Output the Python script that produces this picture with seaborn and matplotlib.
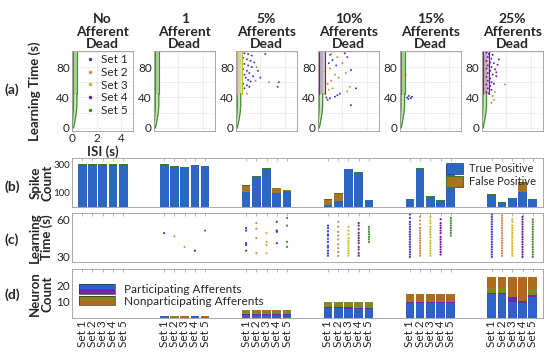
import matplotlib
matplotlib.use('Agg')
import matplotlib.pyplot as plt
import pandas as pd
import seaborn as sns
from matplotlib.patches import Rectangle
from matplotlib.legend_handler import HandlerBase

sns.set_style('white')
plt.rcParams['font.family'] = ['Lato', 'DejaVu Sans']

conditions = ['No\nAfferent\nDead', '1\nAfferent\nDead', '5%\nAfferents\nDead',
              '10%\nAfferents\nDead', '15%\nAfferents\nDead', '25%\nAfferents\nDead']
set_names = ['Set 1', 'Set 2', 'Set 3', 'Set 4', 'Set 5']
set_colors = ['#3b3bd4', '#c98a55', '#cdb52a', '#6e1f9e', '#3f8f2c']

# ---- (a) ISI vs learning time ----
# converging column of spikes (ISI edges vs time)
col_t = [0, 10, 20, 30, 45, 100]
col_left = [0.0, 0.05, 0.1, 0.12, 0.12, 0.12]
col_right = [0.12, 0.25, 0.35, 0.4, 0.4, 0.4]
col_upper_set = [4, 4, 2, 3, 4, 3]      # set dominating the column above 45 s
col_upper_right = [0.4, 0.4, 0.5, 0.55, 0.4, 0.6]

# scattered spikes: (set index, ISI, time)
spread_no_dead = []
spread_1_dead = []
spread_5pct = [(0, 0.7, 98), (0, 1.0, 97), (0, 1.3, 95), (0, 0.6, 92), (0, 0.9, 90), (0, 1.2, 88),
               (0, 1.5, 86), (0, 0.7, 84), (0, 1.0, 82), (0, 1.3, 80), (0, 0.6, 77), (0, 0.9, 75),
               (0, 1.1, 72), (0, 0.7, 70), (0, 1.4, 68), (0, 0.8, 66), (0, 1.0, 63), (0, 1.2, 61),
               (0, 0.6, 58), (0, 0.9, 56), (0, 1.1, 54), (0, 0.7, 52), (0, 2.4, 97), (0, 3.5, 60),
               (0, 3.4, 54), (0, 1.8, 75), (0, 2.0, 66),
               (1, 2.7, 60), (1, 1.6, 62), (1, 0.9, 45), (1, 1.7, 80)]
spread_10pct = [(0, 1.0, 96), (0, 2.2, 98), (0, 2.4, 93), (0, 2.7, 76), (0, 3.1, 52), (0, 2.7, 30),
                (0, 1.4, 41), (0, 1.0, 39), (0, 1.6, 43), (0, 0.8, 37), (0, 1.8, 45), (0, 1.2, 89),
                (0, 0.9, 85), (0, 1.5, 82), (0, 0.7, 40),
                (1, 1.0, 78), (1, 1.4, 70), (1, 1.1, 62), (1, 1.7, 66), (1, 2.3, 72), (1, 2.6, 54),
                (1, 2.4, 48), (1, 1.2, 52), (1, 0.8, 58), (1, 2.0, 85), (1, 1.6, 93), (1, 1.1, 97),
                (1, 0.6, 74), (2, 0.6, 45), (2, 0.9, 50)]
spread_15pct = [(0, 0.6, 40), (0, 0.75, 42), (0, 0.9, 39), (0, 1.0, 41), (0, 0.7, 38), (2, 0.5, 70)]
spread_25pct = [(3, 0.4, 99), (3, 0.6, 97), (3, 0.9, 96), (3, 0.5, 93), (3, 0.8, 91), (3, 0.4, 88),
                (3, 0.7, 86), (3, 1.0, 85), (3, 0.5, 82), (3, 0.8, 80), (3, 1.3, 83), (3, 0.4, 78),
                (3, 0.7, 75), (3, 1.1, 77), (3, 0.5, 72), (3, 0.9, 70), (3, 0.4, 67), (3, 0.7, 65),
                (3, 1.2, 68), (3, 0.5, 62), (3, 0.8, 60), (3, 0.4, 57), (3, 0.7, 55), (3, 1.0, 58),
                (3, 0.5, 52), (3, 0.8, 50), (3, 0.4, 47), (3, 0.6, 45), (3, 1.4, 90), (3, 1.2, 73),
                (1, 0.9, 42), (1, 1.0, 37), (1, 0.8, 33), (2, 1.1, 47), (1, 1.9, 57)]
spreads = [spread_no_dead, spread_1_dead, spread_5pct, spread_10pct, spread_15pct, spread_25pct]

# ---- (b) spike counts ----
true_pos = [[300, 300, 300, 300, 300], [300, 285, 280, 295, 290], [105, 215, 275, 98, 114],
            [14, 43, 270, 240, 48], [52, 272, 72, 44, 295], [85, 28, 62, 110, 52]]
false_pos = [[0, 0, 0, 0, 0], [0, 0, 0, 0, 0], [42, 0, 0, 38, 4],
             [38, 50, 0, 0, 0], [0, 0, 0, 0, 0], [0, 0, 0, 60, 0]]
extra_pos = [[5, 5, 5, 5, 5], [5, 5, 5, 5, 5], [8, 10, 4, 3, 3],
             [5, 5, 5, 10, 4], [6, 6, 6, 6, 6], [5, 5, 5, 10, 5]]

# ---- (c) learning times ----
learn_times = [
    [[], [], [], [], []],
    [[49], [46.5], [38], [35], [51]],
    [[53, 51, 41, 39.5, 35], [57, 52.5, 45, 33], [49, 42, 39.5, 33], [58, 51, 50, 41], [61, 55, 42, 38]],
    [[55, 53, 50.5, 48, 47, 44.5, 42, 39, 37.5, 35, 33, 31], [58, 54, 50, 47, 44, 40, 37, 34, 31],
     [54, 51, 48, 45, 43, 41, 39, 37, 35, 33, 31], [57, 55, 52, 49, 47, 45, 43, 41, 38, 36, 33, 31],
     [54, 52, 50, 48, 46, 44, 42]],
    [[64, 61, 58, 56, 54, 52, 50, 48, 46, 44, 42, 40, 38, 36, 34, 32, 30],
     [62, 59, 56, 53, 51, 49, 47, 45, 43, 41, 39, 37, 35, 33, 31],
     [62, 59, 57, 54, 52, 50, 48, 46, 43, 41, 39, 37, 35, 33, 31],
     [60, 57, 55, 53, 51, 49, 46, 44, 42, 40, 38, 36, 34, 32],
     [61, 59, 57, 55, 53, 51, 49, 47]],
    [[64, 62, 60, 58, 56, 54, 52, 50, 48, 46, 44, 42, 40, 38, 36, 34, 32, 30],
     [63, 61, 59, 57, 55, 53, 51, 49, 47, 45, 43, 41, 39, 37, 35, 33, 31],
     [60, 58, 55, 53, 51, 49, 47, 45, 43, 41, 39, 37, 35, 33, 31],
     [62, 60, 58, 56, 54, 52, 50, 48, 46, 44, 42, 40, 38, 36, 34, 32, 30],
     [60, 58, 56, 54, 52, 50, 48, 46, 44, 42, 40, 38, 36, 34, 32, 30]],
]

# ---- (d) neuron counts ----
part_a = [[0] * 5, [1, 0, 0, 1, 0], [2, 2, 2, 2, 2], [6, 6, 5.5, 5.5, 5.5], [9, 9, 9, 9, 9], [15, 15, 10, 9, 13]]
part_b = [[0] * 5, [0] * 5, [0.5] * 5, [0.5, 0.5, 1, 0.5, 0.5], [0.5] * 5, [0.5, 0.5, 3, 1.5, 1]]
nonpart_a = [[0] * 5, [0, 1, 0, 0, 0], [1.5] * 5, [3.5, 3.5, 3.5, 4, 4], [1] * 5, [3, 3, 0, 0, 4]]
nonpart_b = [[0] * 5, [0, 0, 1, 0, 1], [1] * 5, [0] * 5, [4.5] * 5, [6.5, 6.5, 12, 14.5, 7]]

positions = [8 * g + s for g in range(6) for s in range(5)]
flat = lambda arr: [v for grp in arr for v in grp]

spine_col = '#9a9a9a'
tick_fs = 8.5
lab_fs = 9.5
fig = plt.figure(figsize=(5.5, 3.53), dpi=100)


def style(ax):
    for sp in ax.spines.values():
        sp.set_color(spine_col)
        sp.set_linewidth(0.6)
    ax.tick_params(direction='in', length=2, width=0.5, color=spine_col, labelsize=tick_fs, pad=1.5)


# ---- top row ----
px = 10.24 / 550
for g in range(6):
    left = (72 + 8 * g * 10.24) / 550
    ax = fig.add_axes([left, 1 - 131 / 353, 6 * px, 80 / 353])
    style(ax)
    ax.set_xlim(0, 5)
    ax.set_ylim(-4, 101)
    ax.set_xticks([0, 2, 4])
    ax.set_yticks([0, 20, 40, 60, 80, 100])
    ax.set_yticklabels(['0', '', '40', '', '80', ''])
    ax.grid(True, color='#e8e8e8', lw=0.5)
    ax.set_axisbelow(True)
    # column
    green = set_colors[4]
    up = set_colors[col_upper_set[g]]
    ax.fill_betweenx(col_t, col_left, col_right, color='#cfe5c0', lw=0)
    ax.plot(col_left[:5], col_t[:5], color=green, lw=0.9)
    ax.plot(col_right[:5], col_t[:5], color=green, lw=0.9)
    ax.fill_betweenx([45, 100], [0.12, 0.12], [col_upper_right[g]] * 2, color=up, alpha=0.25, lw=0)
    ax.plot([0.12, 0.12], [45, 100], color=up, lw=0.8)
    ax.plot([col_upper_right[g]] * 2, [45, 100], color=up, lw=0.8)
    pts = pd.DataFrame(spreads[g], columns=['set', 'isi', 't'])
    if len(pts):
        pts['Set'] = [set_names[i] for i in pts['set']]
        sns.scatterplot(data=pts, x='isi', y='t', hue='Set', palette=dict(zip(set_names, set_colors)),
                        s=2, linewidth=0, ax=ax, legend=False)
    ax.set_xlabel('')
    ax.set_ylabel('')
    ax.set_title(conditions[g], fontsize=10, fontweight='bold', linespacing=1.05, pad=2)
    if g == 0:
        ax.set_xlabel('ISI (s)', fontsize=lab_fs, fontweight='bold', labelpad=1)
        ax.set_ylabel('Learning Time (s)', fontsize=lab_fs, fontweight='bold')
        ax.yaxis.set_label_coords(-0.5, 0.5)
        handles = [plt.Line2D([], [], ls='', marker='.', ms=3, color=c) for c in set_colors]
        ax.legend(handles, set_names, loc='center right', bbox_to_anchor=(1.02, 0.575), frameon=False,
                  fontsize=8.5, handlelength=0.8, handletextpad=0.5, labelspacing=0.15, borderpad=0.1)
    else:
        ax.set_xticklabels([])

# ---- bottom axes ----
bl = 72 / 550
bw = 471 / 550
ax_b = fig.add_axes([bl, 1 - 207 / 353, bw, 49 / 353])
ax_c = fig.add_axes([bl, 1 - 262 / 353, bw, 49 / 353])
ax_d = fig.add_axes([bl, 1 - 318 / 353, bw, 49 / 353])

tp = flat(true_pos)
fp = flat(false_pos)
ex = flat(extra_pos)
df_b = pd.DataFrame({'pos': positions,
                     'l1': tp,
                     'l2': [a + b for a, b in zip(tp, fp)],
                     'l3': [a + b + c for a, b, c in zip(tp, fp, ex)]})
for col, c in [('l3', '#3b7a2a'), ('l2', '#a8741f'), ('l1', '#2b66c2')]:
    sns.barplot(data=df_b, x='pos', y=col, native_scale=True, color=c, saturation=1,
                width=0.85, errorbar=None, linewidth=0, ax=ax_b)
ax_b.set_ylim(0, 350)
ax_b.set_yticks([100, 200, 300])
ax_b.set_yticklabels(['100', '', '300'])
tp_h = Rectangle((0, 0), 1, 1, facecolor='#2b66c2', edgecolor='#1d3f7a', lw=0.5)
fp_h = Rectangle((0, 0), 1, 1, facecolor='#a8741f', edgecolor='#3b7a2a', lw=0.8)
ax_b.legend([tp_h, fp_h], ['True Positive', 'False Positive'], loc='upper right',
            bbox_to_anchor=(1.0, 1.03), frameon=False, fontsize=8, handlelength=1.5,
            handleheight=1.1, handletextpad=0.6, labelspacing=0.15, borderpad=0.1)

rows = []
for g in range(6):
    for s in range(5):
        for t in learn_times[g][s]:
            rows.append((8 * g + s, t, set_names[s]))
df_c = pd.DataFrame(rows, columns=['pos', 't', 'Set'])
sns.scatterplot(data=df_c, x='pos', y='t', hue='Set', palette=dict(zip(set_names, set_colors)),
                s=2.5, linewidth=0, ax=ax_c, legend=False)
ax_c.set_ylim(26, 65)
ax_c.set_yticks([30, 40, 50, 60])
ax_c.set_yticklabels(['30', '', '', '60'])

pa, pb, na, nb = flat(part_a), flat(part_b), flat(nonpart_a), flat(nonpart_b)
df_d = pd.DataFrame({'pos': positions,
                     'l1': pa,
                     'l2': [a + b for a, b in zip(pa, pb)],
                     'l3': [a + b + c for a, b, c in zip(pa, pb, na)],
                     'l4': [a + b + c + d for a, b, c, d in zip(pa, pb, na, nb)]})
d_cols = {'l1': '#2e62c8', 'l2': '#6a2aa8', 'l3': '#7f8a22', 'l4': '#b06a1e'}
for col in ['l4', 'l3', 'l2', 'l1']:
    sns.barplot(data=df_d, x='pos', y=col, native_scale=True, color=d_cols[col], saturation=1,
                width=0.85, errorbar=None, linewidth=0, ax=ax_d)
ax_d.set_ylim(0, 30)
ax_d.set_yticks([10, 20])


class Pair:
    def __init__(self, top, bottom):
        self.top, self.bottom = top, bottom


class PairHandler(HandlerBase):
    def create_artists(self, legend, orig, xd, yd, w, h, fs, trans):
        r1 = Rectangle((-xd, -yd + h / 2), w, h / 2, facecolor=orig.top, lw=0, transform=trans)
        r2 = Rectangle((-xd, -yd), w, h / 2, facecolor=orig.bottom, lw=0, transform=trans)
        r3 = Rectangle((-xd, -yd), w, h, facecolor='none', edgecolor='#333333', lw=0.5, transform=trans)
        return [r1, r2, r3]


ax_d.legend([Pair('#2e62c8', '#6a2aa8'), Pair('#7f8a22', '#b06a1e')],
            ['Participating Afferents', 'Nonparticipating Afferents'],
            handler_map={Pair: PairHandler()}, loc='upper left', bbox_to_anchor=(0.0, 0.84),
            frameon=False, fontsize=8.5, handlelength=3.0, handleheight=0.9, handletextpad=0.8,
            labelspacing=0.05, borderpad=0.1)

for ax in (ax_b, ax_c, ax_d):
    style(ax)
    ax.set_xlim(-1, 45)
    ax.set_xticks(positions)
    ax.tick_params(axis='x', top=True)
    ax.set_xlabel('')
    ax.set_ylabel('')
ax_b.tick_params(axis='y', labelsize=7)
ax_b.set_xticklabels([])
ax_c.set_xticklabels([])
ax_d.set_xticklabels(set_names * 6, rotation=90, fontsize=8.5)

for ax, lab in [(ax_b, 'Spike\nCount'), (ax_c, 'Learning\nTime (s)'), (ax_d, 'Neuron\nCount')]:
    ax.set_ylabel(lab, fontsize=lab_fs, fontweight='bold', linespacing=1.0)
    ax.yaxis.set_label_coords(-0.04, 0.5)

for lab, y in [('(a)', 90), ('(b)', 187), ('(c)', 240), ('(d)', 295)]:
    fig.text(12 / 550, 1 - y / 353, lab, fontsize=10, fontweight='bold', ha='center', va='center')

fig.savefig('out.png', dpi=100)
